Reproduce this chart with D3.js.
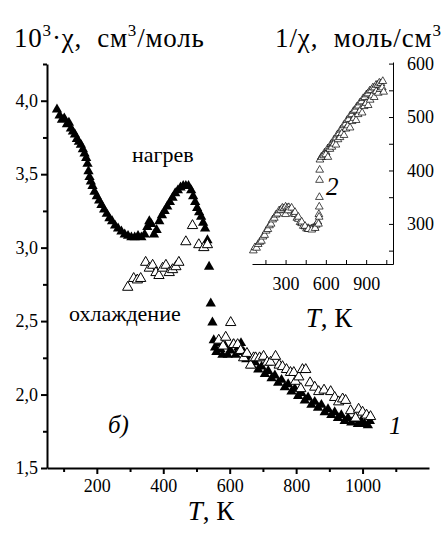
<!DOCTYPE html>
<html>
<head>
<meta charset="utf-8">
<script src="https://cdn.jsdelivr.net/npm/d3@7"></script>
<style>
  body { margin: 0; background: #fff; }
  text { font-family: "Liberation Serif", "Times New Roman", Times, "DejaVu Serif", serif !important; }
</style>
</head>
<body>
<div id="chart"></div>
<script>
// main plot: chi (10^3 cm3/mol) vs T, K
const heating = [
  [80,3.94],[88,3.90],[95,3.87],[102,3.88],[110,3.84],[116,3.85],[122,3.81],[128,3.79],[134,3.77],[140,3.74],
  [146,3.72],[152,3.70],[158,3.67],[163,3.64],[168,3.61],[172,3.57],[175,3.52],[178,3.48],[182,3.45],[187,3.42],
  [193,3.38],[200,3.35],[207,3.32],[214,3.29],[222,3.26],[230,3.23],[238,3.20],[246,3.18],[255,3.15],[264,3.13],
  [274,3.11],[284,3.09],[294,3.08],[304,3.07],[314,3.07],[324,3.08],[334,3.07],[344,3.09],[352,3.14],[358,3.18],
  [364,3.16],[372,3.09],[380,3.12],[388,3.18],[396,3.22],[404,3.25],[412,3.28],[420,3.31],[428,3.34],[436,3.37],
  [444,3.39],[452,3.41],[460,3.42],[468,3.42],[476,3.42],[484,3.39],[490,3.35],[496,3.31],[502,3.27],[508,3.24],
  [514,3.21],[520,3.17],[526,3.13],[533,3.05],[538,2.87],[543,2.62],[548,2.49],[552,2.37],[556,2.32],[560,2.29],
  [566,2.35],[572,2.31],[578,2.27],[586,2.33],[594,2.27],[602,2.30],[610,2.34],[618,2.27],[626,2.32],[634,2.35],
  [642,2.29],[650,2.24],[658,2.26],[666,2.20],[676,2.22],[686,2.17],[696,2.19],[706,2.14],[716,2.16],[726,2.11],
  [736,2.13],[746,2.08],[756,2.10],[766,2.05],[776,2.07],[786,2.02],[796,2.04],[806,1.99],[816,2.01],[826,1.96],
  [836,1.98],[846,1.93],[856,1.95],[866,1.91],[876,1.93],[886,1.88],[896,1.90],[906,1.86],[916,1.88],[926,1.84],
  [936,1.86],[946,1.82],[956,1.84],[966,1.81],[976,1.83],[986,1.80],[996,1.82],[1006,1.80],[1016,1.79],[1022,1.82]
];
const cooling = [
  [293,2.73],[311,2.79],[322,2.78],[332,2.79],[347,2.90],[358,2.86],[368,2.88],[378,2.83],[387,2.81],[398,2.86],
  [408,2.88],[418,2.83],[428,2.85],[438,2.87],[447,2.90],[468,3.04],[488,3.15],[507,3.02],[522,3.00],[533,3.02],
  [567,2.37],[580,2.33],[588,2.39],[603,2.49],[612,2.34],[624,2.34],[633,2.30],[642,2.25],[652,2.28],[663,2.20],
  [672,2.25],[678,2.25],[690,2.25],[702,2.26],[713,2.22],[723,2.22],[738,2.26],[749,2.20],[759,2.19],[771,2.17],
  [783,2.15],[793,2.15],[798,2.09],[808,2.12],[814,2.04],[819,2.17],[829,2.17],[842,2.08],[856,2.05],[868,2.02],
  [884,2.03],[904,2.02],[916,1.98],[928,1.95],[940,1.97],[949,1.96],[964,1.89],[979,1.84],[988,1.90],[1000,1.88],
  [1012,1.86],[1024,1.85]
];
const xTicks = [200, 400, 600, 800, 1000];
const xMinor = [100, 300, 500, 700, 900, 1100];
const yTicks = [1.5, 2.0, 2.5, 3.0, 3.5, 4.0];
const yMinor = [1.75, 2.25, 2.75, 3.25, 3.75, 4.25];

// inset: 1/chi (mol/cm3) vs T, K
const insetHeat = [
  [60,250],[72,256],[84,255],[96,262],[108,266],[120,268],[132,276],[144,279],[156,287],[168,290],
  [180,297],[192,300],[204,308],[216,311],[228,317],[240,319],[252,325],[264,326],[276,330],[288,329],
  [300,332],[312,330],[324,331],[336,327],[348,325],[360,319],[372,318],[384,311],[396,309],[408,303],
  [420,301],[432,296],[444,295],[456,291],[468,292],[480,290],[492,291],[504,292],[516,294],[528,298],
  [540,304],[548,318],[566,425],[578,427],[590,433],[602,434],[614,441],[626,442],[638,449],[650,451],
  [662,458],[674,460],[686,467],[698,469],[710,476],[722,478],[734,485],[746,487],[758,494],[770,496],
  [782,503],[794,505],[806,511],[818,513],[830,519],[842,521],[854,527],[866,529],[878,535],[890,537],
  [902,542],[914,544],[926,549],[938,550],[950,555],[962,555],[974,560],[986,560],[998,564],[1010,563],[1024,567]
];
const insetCool = [
  [300,318],[320,325],[345,330],[370,322],[395,313],[420,304],[445,296],[470,290],[495,289],[520,292],
  [545,300],[550,313],[551,332],[552,350],[553,382],[554,401],[556,420],[570,425],[585,428],[600,430],
  [615,425],[630,440],[645,444],[660,450],[675,448],[690,458],[705,462],[720,470],[735,466],[750,478],
  [765,484],[780,480],[795,492],[810,498],[825,494],[840,505],[855,512],[870,508],[885,520],[900,526],
  [915,522],[930,532],[945,540],[960,537],[975,548],[990,545],[1005,552],[1020,555],[1030,547]
];
const insetXTicks = [300, 600, 900];
const insetXMinor = [150, 450, 750, 1050];
const insetYTicks = [300, 400, 500, 600];
const insetYMinor = [250, 350, 450, 550];

const svgWidth = 448;
const svgHeight = 533;
const serif = '"Liberation Serif", "Times New Roman", Times, serif';

const svg = d3.select('#chart')
  .append('svg')
  .attr('width', svgWidth)
  .attr('height', svgHeight)
  .attr('font-family', serif);

const x = d3.scaleLinear().domain([50, 1200]).range([47, 429]);
const y = d3.scaleLinear().domain([1.5, 4.25]).range([468, 64]);

const fmt = d3.format('.1f');
const comma = (d) => fmt(d).replace('.', ',');

// X axis
const gx = svg.append('g').attr('transform', `translate(0, ${y(1.5)})`);
gx.call(d3.axisBottom(x).tickValues(xTicks).tickFormat(d3.format('d')).tickSize(6).tickSizeOuter(0).tickPadding(5));
gx.append('g').call(d3.axisBottom(x).tickValues(xMinor).tickSize(4).tickFormat(''))
  .select('.domain').remove();
// Y axis
const gy = svg.append('g').attr('transform', `translate(${x(50)}, 0)`);
gy.call(d3.axisLeft(y).tickValues(yTicks).tickFormat(comma).tickSize(6).tickSizeOuter(0).tickPadding(3));
gy.append('g').call(d3.axisLeft(y).tickValues(yMinor).tickSize(4).tickFormat(''))
  .select('.domain').remove();

svg.selectAll('.domain').attr('stroke-width', 2);
gx.selectAll('.tick line').attr('stroke-width', 2);
gy.selectAll('.tick line').attr('stroke-width', 2);
[gx, gy].forEach((g) => g.attr('font-family', serif).selectAll('text').attr('font-size', 18));

const tri = d3.symbol().type(d3.symbolTriangle).size(46);

svg.append('g').selectAll('path')
  .data(heating)
  .join('path')
  .attr('transform', (d) => `translate(${x(d[0])}, ${y(d[1])})`)
  .attr('d', tri)
  .attr('fill', '#000');

svg.append('g').selectAll('path')
  .data(cooling)
  .join('path')
  .attr('transform', (d) => `translate(${x(d[0])}, ${y(d[1])})`)
  .attr('d', tri)
  .attr('fill', '#fff')
  .attr('stroke', '#000')
  .attr('stroke-width', 1);

// inset
const xi = d3.scaleLinear().domain([50, 1100]).range([252, 393]);
const yi = d3.scaleLinear().domain([225, 603]).range([264, 62]);

const gxi = svg.append('g').attr('transform', `translate(0, ${yi(225)})`);
gxi.call(d3.axisTop(xi).tickValues(insetXTicks.concat(insetXMinor)).tickSize(4).tickSizeOuter(0).tickFormat(''));
gxi.append('g').call(d3.axisBottom(xi).tickValues(insetXTicks).tickSize(0).tickPadding(13))
  .select('.domain').remove();
const gyi = svg.append('g').attr('transform', `translate(${xi(1100)}, 0)`);
gyi.call(d3.axisLeft(yi).tickValues(insetYTicks.concat(insetYMinor)).tickSize(4).tickSizeOuter(0).tickFormat(''));
gyi.append('g').call(d3.axisRight(yi).tickValues(insetYTicks).tickSize(0).tickPadding(14))
  .select('.domain').remove();
[gxi, gyi].forEach((g) => {
  g.attr('font-family', serif).selectAll('text').attr('font-size', 18);
  g.selectAll('.domain').attr('stroke-width', 1);
});

const triS = d3.symbol().type(d3.symbolTriangle).size(26);

[insetHeat, insetCool].forEach((s) => {
  svg.append('g').selectAll('path')
    .data(s)
    .join('path')
    .attr('transform', (d) => `translate(${xi(d[0])}, ${yi(d[1])})`)
    .attr('d', triS)
    .attr('fill', '#fff')
    .attr('stroke', '#000')
    .attr('stroke-width', 0.7);
});

// texts
const t1 = svg.append('text').attr('x', 14).attr('y', 47).attr('font-size', 27).attr('letter-spacing', 0.8);
t1.append('tspan').text('10');
t1.append('tspan').attr('dy', -11).attr('font-size', 17).text('3');
t1.append('tspan').attr('dy', 11).text('·χ,\u00a0 см');
t1.append('tspan').attr('dy', -11).attr('font-size', 17).text('3');
t1.append('tspan').attr('dy', 11).text('/моль');

const t2 = svg.append('text').attr('x', 275).attr('y', 47).attr('font-size', 27).attr('letter-spacing', 0.9);
t2.append('tspan').text('1/χ,\u00a0 моль/см');
t2.append('tspan').attr('dy', -11).attr('font-size', 17).text('3');

const tk = svg.append('text').attr('x', 211).attr('y', 520).attr('font-size', 27).attr('text-anchor', 'middle');
tk.append('tspan').attr('font-style', 'italic').text('T');
tk.append('tspan').text(', К');

const tki = svg.append('text').attr('x', 329).attr('y', 327).attr('font-size', 27).attr('text-anchor', 'middle');
tki.append('tspan').attr('font-style', 'italic').text('T');
tki.append('tspan').text(', К');

svg.append('text').attr('x', 132).attr('y', 162).attr('font-size', 22).text('нагрев');
svg.append('text').attr('x', 69).attr('y', 321).attr('font-size', 22).text('охлаждение');
svg.append('text').attr('x', 108).attr('y', 433).attr('font-size', 25).attr('font-style', 'italic').text('б)');
svg.append('text').attr('x', 389).attr('y', 434).attr('font-size', 25).attr('font-style', 'italic').text('1');
svg.append('text').attr('x', 326).attr('y', 195).attr('font-size', 25).attr('font-style', 'italic').text('2');
</script>
</body>
</html>
